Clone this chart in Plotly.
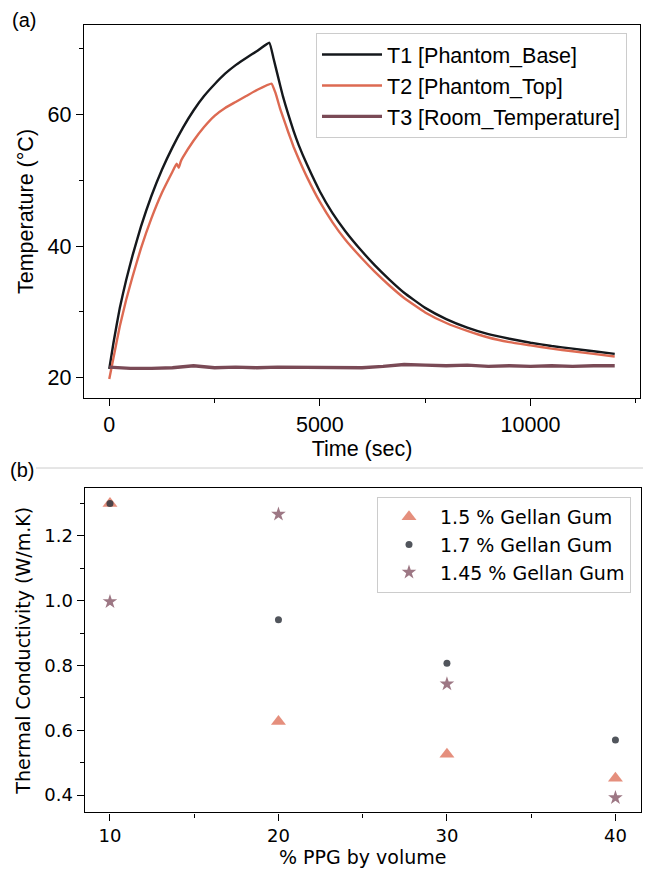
import plotly.graph_objects as go

# ---------------- Panel (a): temperature vs time ----------------
time_t1 = [0, 100, 250, 400, 550, 750, 1000, 1250, 1500, 1750, 2000, 2250, 2500, 2750,
           3000, 3250, 3500, 3800, 3900, 4000, 4125, 4250, 4375, 4500, 4700, 5000, 5300,
           5600, 6000, 6300, 6650, 7000, 7500, 8000, 8500, 9000, 9500, 10000, 10500, 11000,
           11500, 12000]
t1_base = [21.3, 25.3, 30.6, 34.8, 38.5, 42.9, 47.6, 51.6, 55.0, 58.0, 60.6, 62.8, 64.6, 66.2,
           67.5, 68.6, 69.6, 70.9, 68.5, 65.9, 62.7, 60.0, 57.5, 55.3, 52.3, 48.3, 45.0,
           42.3, 39.2, 37.1, 34.9, 32.9, 30.6, 28.9, 27.6, 26.6, 25.9, 25.3, 24.8, 24.4,
           24.0, 23.6]
time_t2 = [0, 100, 250, 400, 550, 750, 1000, 1250, 1500, 1600, 1650, 1700, 1750, 2000, 2250,
           2500, 2750, 3000, 3250, 3500, 3850, 3950, 4050, 4125, 4250, 4375, 4500, 4700,
           5000, 5300, 5600, 6000, 6300, 6650, 7000, 7500, 8000, 8500, 9000, 9500, 10000,
           10500, 11000, 11500, 12000]
t2_top = [19.8, 23.0, 27.8, 31.8, 35.3, 39.6, 44.2, 48.1, 51.3, 52.5, 51.9, 52.9, 53.5, 56.0,
          58.1, 59.8, 61.0, 61.9, 62.8, 63.7, 64.7, 63.2, 61.0, 59.6, 57.3, 55.1, 53.2, 50.4,
          46.7, 43.6, 41.0, 38.1, 36.1, 34.0, 32.1, 29.9, 28.3, 27.1, 26.1, 25.4, 24.9,
          24.4, 24.0, 23.6, 23.2]
time_room = [0, 500, 1000, 1500, 2000, 2500, 3000, 3500, 4000, 4500, 5000, 5500, 6000,
             6500, 7000, 7500, 8000, 8500, 9000, 9500, 10000, 10500, 11000, 11500, 12000]
t3_room = [21.6, 21.4, 21.4, 21.5, 21.8, 21.5, 21.6, 21.5, 21.6, 21.6, 21.5, 21.6, 21.5,
           21.7, 22.0, 21.9, 21.8, 21.9, 21.7, 21.8, 21.7, 21.8, 21.7, 21.8, 21.8]

# ---------------- Panel (b): thermal conductivity ----------------
ppg_pct = [10, 20, 30, 40]
k_150 = [1.30, 0.627, 0.526, 0.452]
k_170 = [1.30, 0.941, 0.807, 0.570]
k_145 = [0.997, 1.267, 0.743, 0.392]

W, H = 651, 874
OFF = 8  # page body margin of the html page
FW, FH = W - OFF, H - OFF
def px_x(p): return (p - OFF) / FW
def px_y(p): return 1 - (p - OFF) / FH

AR = "Liberation Sans, Arial, sans-serif"
DJ = "DejaVu Sans, sans-serif"

fig = go.Figure()
fig.add_trace(go.Scatter(x=time_t1, y=t1_base, mode="lines", name="T1 [Phantom_Base]",
                         line=dict(color="#15181c", width=2.4, shape="spline", smoothing=0.35),
                         xaxis="x", yaxis="y", legend="legend"))
fig.add_trace(go.Scatter(x=time_t2, y=t2_top, mode="lines", name="T2 [Phantom_Top]",
                         line=dict(color="#dd6a52", width=2.4, shape="spline", smoothing=0.35),
                         xaxis="x", yaxis="y", legend="legend"))
fig.add_trace(go.Scatter(x=time_room, y=t3_room, mode="lines", name="T3 [Room_Temperature]",
                         line=dict(color="#7a4a56", width=3.4), xaxis="x", yaxis="y",
                         legend="legend"))

fig.add_trace(go.Scatter(x=ppg_pct, y=k_150, mode="markers", name="1.5 % Gellan Gum",
                         marker=dict(symbol="triangle-up", size=13, color="#e07b66", opacity=0.85,
                                     line=dict(width=0)),
                         xaxis="x2", yaxis="y2", legend="legend2"))
fig.add_trace(go.Scatter(x=ppg_pct, y=k_170, mode="markers", name="1.7 % Gellan Gum",
                         marker=dict(symbol="circle", size=7, color="#33373f", opacity=0.85,
                                     line=dict(width=0)),
                         xaxis="x2", yaxis="y2", legend="legend2"))
fig.add_trace(go.Scatter(x=ppg_pct, y=k_145, mode="markers", name="1.45 % Gellan Gum",
                         marker=dict(symbol="star", size=11, color="#8c5f6e", opacity=0.85,
                                     line=dict(width=0)),
                         xaxis="x2", yaxis="y2", legend="legend2"))

axis_common = dict(showline=True, linecolor="black", linewidth=1.4, mirror=True,
                   ticks="outside", ticklen=7, tickwidth=1.3, tickcolor="black",
                   showgrid=False, zeroline=False, automargin=False)
minor_common = dict(ticks="outside", ticklen=4, tickcolor="black", tickwidth=1.1, showgrid=False)

fig.update_layout(
    template="none",
    width=FW, height=FH, margin=dict(l=0, r=0, t=0, b=0, pad=0), autosize=False,
    paper_bgcolor="white", plot_bgcolor="white",
    xaxis=dict(domain=[px_x(84), px_x(640)], anchor="y", range=[-600, 12600],
               tickvals=[0, 5000, 10000], ticktext=["0", "5000", "10000"],
               minor=dict(tickvals=[2500, 7500, 12500], **minor_common),
               tickfont=dict(family=AR, size=21.5, color="black"),
               title=dict(text="Time (sec)", font=dict(family=AR, size=21.5, color="black"), standoff=3),
               **axis_common),
    yaxis=dict(domain=[px_y(398), px_y(25)], anchor="x", range=[16.9, 73.6],
               tickvals=[20, 40, 60],
               minor=dict(tickvals=[30, 50, 70], **minor_common),
               tickfont=dict(family=AR, size=21.5, color="black"),
               title=dict(text="Temperature (°C)", font=dict(family=AR, size=21.5, color="black"), standoff=8),
               **axis_common),
    xaxis2=dict(domain=[px_x(84.7), px_x(640.7)], anchor="y2", range=[8.5, 41.5],
                tickvals=[10, 20, 30, 40],
                minor=dict(tickvals=[15, 25, 35], **minor_common),
                tickfont=dict(family=DJ, size=18, color="black"),
                title=dict(text="% PPG by volume", font=dict(family=DJ, size=19, color="black"), standoff=4),
                **axis_common),
    yaxis2=dict(domain=[px_y(812.3), px_y(488.3)], anchor="x2", range=[0.347, 1.347],
                tickvals=[0.4, 0.6, 0.8, 1.0, 1.2], tickformat=".1f",
                minor=dict(tickvals=[0.5, 0.7, 0.9, 1.1, 1.3], **minor_common),
                tickfont=dict(family=DJ, size=18, color="black"),
                title=dict(text="Thermal Conductivity (W/m.K)", font=dict(family=DJ, size=19, color="black"), standoff=8),
                **axis_common),
    legend=dict(x=px_x(627), y=px_y(33), xanchor="right", yanchor="top",
                bgcolor="rgba(255,255,255,0.85)", bordercolor="#cccccc", borderwidth=1,
                font=dict(family=AR, size=21.5, color="black"), itemwidth=60),
    legend2=dict(x=px_x(631), y=px_y(497), xanchor="right", yanchor="top",
                 bgcolor="rgba(255,255,255,0.85)", bordercolor="#cccccc", borderwidth=1,
                 font=dict(family=DJ, size=19, color="black"), itemwidth=52),
    showlegend=True,
)

fig.add_annotation(text="(a)", x=px_x(10), y=px_y(20), xref="paper", yref="paper",
                   xanchor="left", yanchor="middle", showarrow=False,
                   font=dict(family=AR, size=20, color="black"))
fig.add_annotation(text="(b)", x=px_x(8), y=px_y(470), xref="paper", yref="paper",
                   xanchor="left", yanchor="middle", showarrow=False,
                   font=dict(family=AR, size=20, color="black"))
fig.add_shape(type="line", xref="paper", yref="paper", x0=px_x(36), x1=px_x(645),
              y0=px_y(468), y1=px_y(468), line=dict(color="#cccccc", width=1))

fig.write_html("out.html")
